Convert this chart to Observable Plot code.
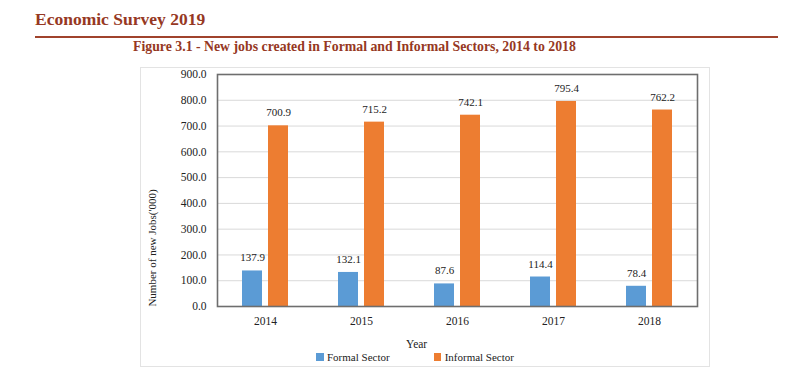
<!DOCTYPE html>
<html>
<head>
<meta charset="utf-8">
<script src="https://cdn.jsdelivr.net/npm/d3@7"></script>
<script src="https://cdn.jsdelivr.net/npm/@observablehq/plot@0.6"></script>
<style>
  html, body { margin: 0; padding: 0; background: #fff; }
  #page { position: relative; width: 800px; height: 377px; overflow: hidden; font-family: "Liberation Serif", "Times New Roman", serif; color: #222; }
  #hdr { position: absolute; left: 35px; top: 9px; font-size: 17.5px; line-height: 20px; font-weight: bold; color: #963823; white-space: nowrap; }
  #rule { position: absolute; left: 35px; top: 35.5px; width: 743px; height: 2.5px; background: #a0432c; }
  #ftitle { position: absolute; left: 133px; top: 39px; font-size: 13.8px; line-height: 16px; font-weight: bold; color: #963823; white-space: nowrap; }
  #box { position: absolute; left: 140px; top: 67px; width: 570px; height: 300px; border: 1.5px solid #e3e3e3; box-sizing: border-box; }
  #chart { position: absolute; left: 0; top: 60px; }
  #ylab { position: absolute; left: 152px; top: 248px; font-size: 11px; line-height: 14px; white-space: nowrap; transform: translate(-50%, -50%) rotate(-90deg); }
  #xlab { position: absolute; left: 406px; top: 337px; font-size: 11.5px; line-height: 14px; }
  #legend { position: absolute; left: 316px; top: 350px; font-size: 11px; line-height: 14px; display: flex; align-items: center; white-space: nowrap; }
  .sw { display: inline-block; width: 7.5px; height: 7.5px; margin-right: 3.5px; }
</style>
</head>
<body>
<div id="page">
  <div id="hdr">Economic Survey 2019</div>
  <div id="rule"></div>
  <div id="ftitle">Figure 3.1 - New jobs created in Formal and Informal Sectors, 2014 to 2018</div>
  <div id="box"></div>
  <div id="chart"></div>
  <div id="ylab">Number of new Jobs('000)</div>
  <div id="xlab">Year</div>
  <div id="legend"></div>
</div>
<script>
const years = ["2014", "2015", "2016", "2017", "2018"];
const sectors = ["Formal Sector", "Informal Sector"];
const formal = [137.9, 132.1, 87.6, 114.4, 78.4];
const informal = [700.9, 715.2, 742.1, 795.4, 762.2];
const colors = ["#5B9BD5", "#ED7D31"];
const yTicks = [0, 100, 200, 300, 400, 500, 600, 700, 800, 900];

const data = years.flatMap((yr, i) => [
  {year: yr, sector: sectors[0], value: formal[i]},
  {year: yr, sector: sectors[1], value: informal[i]}
]);

const chart = Plot.plot({
  width: 800,
  height: 317,
  marginLeft: 215,
  marginRight: 101,
  marginTop: 14,
  marginBottom: 71,
  style: {fontFamily: "'Liberation Serif', 'Times New Roman', serif", fontSize: "11.5px", color: "#222", background: "transparent", overflow: "visible"},
  fx: {domain: years, padding: 0, label: null},
  x: {domain: sectors, paddingInner: 0.22, paddingOuter: 0.9, axis: null},
  y: {domain: [0, 900]},
  color: {domain: sectors, range: colors},
  marks: [
    Plot.gridY(yTicks, {stroke: "#d9d9d9", strokeOpacity: 1}),
    Plot.barY(data, {fx: "year", x: "sector", y: "value", fill: "sector"}),
    Plot.text(data, {fx: "year", x: "sector", y: "value", text: d => d.value.toFixed(1), dy: -13, fontSize: 11, fill: "#222"}),
    Plot.frame({facet: "super", stroke: "#6e6e6e", strokeWidth: 1.6}),
    Plot.axisY(yTicks, {tickSize: 0, tickPadding: 11, tickFormat: d => d.toFixed(1), label: null, fontSize: 11.5}),
    Plot.axisFx({anchor: "bottom", tickSize: 0, tickPadding: 10, label: null, fontSize: 11.5})
  ]
});
document.getElementById("chart").appendChild(chart);

const legend = document.getElementById("legend");
sectors.forEach((s, i) => {
  const item = document.createElement("span");
  item.style.display = "inline-flex";
  item.style.alignItems = "center";
  item.style.marginRight = i === 0 ? "44px" : "0";
  const sw = document.createElement("span");
  sw.className = "sw";
  sw.style.background = colors[i];
  item.appendChild(sw);
  item.appendChild(document.createTextNode(s));
  legend.appendChild(item);
});
</script>
</body>
</html>
